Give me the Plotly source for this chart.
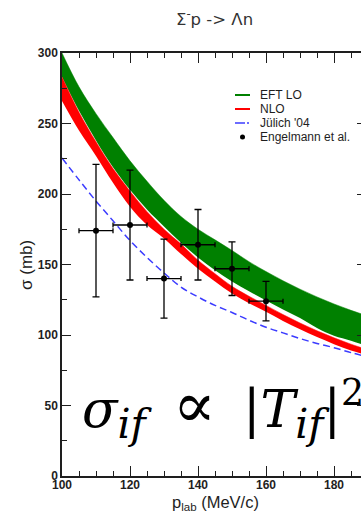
import plotly.graph_objects as go

# Lab momentum grid (MeV/c) for the theory curves
p_lab = [100, 105, 110, 115, 120, 125, 130, 135, 140, 145,
         150, 155, 160, 165, 170, 175, 180, 185, 190]

# EFT LO band (mb)
eft_lo_upper = [300, 276, 257, 240, 223.5, 209, 195.5, 184, 175, 167.5,
                160, 152, 145, 138.5, 132.5, 127, 122, 117.5, 113.5]
eft_lo_lower = [283, 259, 238, 219, 203, 189, 177, 165.5, 155, 146,
                138, 131, 124.5, 118, 112, 105, 99.5, 96, 92]

# NLO band (mb)
nlo_upper = [283, 258, 237, 218, 202, 187.5, 175, 164.5, 153, 143.5,
             134.5, 127.5, 121, 114.5, 108.5, 103, 98, 93.5, 89.5]
nlo_lower = [266, 245, 227, 208, 191, 178, 168.5, 157.5, 147, 138,
             129.5, 122.5, 116.5, 110, 104, 98.5, 93.5, 89, 85.5]

# Jülich '04 model (mb)
juelich04 = [225.5, 210, 195, 181, 167, 155, 144, 134, 127, 121,
             116, 110.5, 105.5, 101.5, 97.5, 94, 91, 87.5, 84.5]

# Engelmann et al. data
exp_p = [110, 120, 130, 140, 150, 160]
exp_sigma = [174, 178, 140, 164, 147, 124]
exp_err = [47, 39, 28, 25, 19, 14]
exp_dp = [5, 5, 5, 5, 5, 5]

legend_labels = ["EFT LO", "NLO", "Jülich '04", "Engelmann et al."]

GREEN = "#008000"
RED = "#ff0000"
BLUE = "#3c3cff"
INK = "#1e1e1e"
SANS = "Liberation Sans, Arial, sans-serif"
WIDE_SANS = "DejaVu Sans, sans-serif"
SERIF = "DejaVu Serif, serif"

# figure geometry in pixels
W, H = 361, 516
L, R, T, B = 62, 0, 53, 40
PW, PH = W - L - R, H - T - B


def px(xp):
    return (xp - L) / PW


def py(yp):
    return (H - B - yp) / PH


fig = go.Figure()

# EFT LO band
fig.add_trace(go.Scatter(x=p_lab, y=eft_lo_lower, mode="lines",
                         line=dict(width=0, color=GREEN, shape="spline"),
                         showlegend=False, hoverinfo="skip"))
fig.add_trace(go.Scatter(x=p_lab, y=eft_lo_upper, mode="lines",
                         line=dict(width=0.5, color=GREEN, shape="spline"),
                         fill="tonexty", fillcolor=GREEN,
                         showlegend=False, hoverinfo="skip"))

# NLO band
fig.add_trace(go.Scatter(x=p_lab, y=nlo_lower, mode="lines",
                         line=dict(width=0, color=RED, shape="spline"),
                         showlegend=False, hoverinfo="skip"))
fig.add_trace(go.Scatter(x=p_lab, y=nlo_upper, mode="lines",
                         line=dict(width=0.5, color=RED, shape="spline"),
                         fill="tonexty", fillcolor=RED,
                         showlegend=False, hoverinfo="skip"))

# Jülich '04
fig.add_trace(go.Scatter(x=p_lab, y=juelich04, mode="lines",
                         line=dict(width=1.5, color=BLUE, dash="7px,4px",
                                   shape="spline"),
                         showlegend=False))

# Engelmann et al.
fig.add_trace(go.Scatter(
    x=exp_p, y=exp_sigma, mode="markers",
    marker=dict(size=6, color="black"),
    error_y=dict(type="data", array=exp_err, color="black",
                 thickness=1.3, width=3.5),
    error_x=dict(type="data", array=exp_dp, color="black",
                 thickness=1.3, width=2.5),
    showlegend=False))

# carrier for the right-hand tick axis
fig.add_trace(go.Scatter(x=[None], y=[None], yaxis="y2",
                         showlegend=False, hoverinfo="skip"))

shapes = []
annotations = []

# legend block
leg_rows = [95, 109, 123, 137]
leg_x0, leg_x1, leg_tx = 235, 250, 258
shapes.append(dict(type="line", xref="paper", yref="paper",
                   x0=px(leg_x0), x1=px(leg_x1), y0=py(leg_rows[0]), y1=py(leg_rows[0]),
                   line=dict(color=GREEN, width=2)))
shapes.append(dict(type="line", xref="paper", yref="paper",
                   x0=px(leg_x0), x1=px(leg_x1), y0=py(leg_rows[1]), y1=py(leg_rows[1]),
                   line=dict(color=RED, width=2)))
shapes.append(dict(type="line", xref="paper", yref="paper",
                   x0=px(leg_x0), x1=px(leg_x1), y0=py(leg_rows[2]), y1=py(leg_rows[2]),
                   line=dict(color=BLUE, width=1.5, dash="10px,2px,2px,4px")))
shapes.append(dict(type="circle", xref="paper", yref="paper",
                   x0=px(240), x1=px(245), y0=py(leg_rows[3] - 2.5), y1=py(leg_rows[3] + 2.5),
                   fillcolor="black", line=dict(color="black", width=0)))
for row, label in zip(leg_rows, legend_labels):
    annotations.append(dict(x=px(leg_tx), y=py(row), xref="paper", yref="paper",
                            text=label, showarrow=False, xanchor="left",
                            yanchor="middle",
                            font=dict(family=SANS, size=12, color=INK)))

# title
annotations.append(dict(x=px(214), y=py(18), xref="paper", yref="paper",
                        text="Σ<sup>-</sup>p -> Λn", showarrow=False,
                        xanchor="center", yanchor="middle",
                        font=dict(family=WIDE_SANS, size=16.5, color="#333333")))

# axis titles
annotations.append(dict(x=px(215), y=py(503), xref="paper", yref="paper",
                        text="p<sub>lab</sub> (MeV/c)", showarrow=False,
                        xanchor="center", yanchor="middle",
                        font=dict(family=SANS, size=16.5, color=INK)))
annotations.append(dict(x=px(26), y=py(265), xref="paper", yref="paper",
                        text="σ (mb)", showarrow=False, textangle=-90,
                        xanchor="center", yanchor="middle",
                        font=dict(family=SANS, size=17, color=INK)))

# cross-section formula
SUB = '<sub><span style="font-size:41px"><i>if</i></span></sub>'
PROP = '<span style="font-size:64px">∝</span>'
GAP = "\u2009"
annotations.append(dict(x=px(80), y=py(408), xref="paper", yref="paper",
                        text="<i>σ</i>" + SUB + GAP + " " + PROP + " " + GAP
                             + "|<i>T</i>" + SUB + "|<sup>2</sup>",
                        showarrow=False, xanchor="left", yanchor="middle",
                        font=dict(family=SERIF, size=52, color="black")))

tickfont = dict(family=SANS, size=12, color=INK, weight="bold")

fig.update_layout(
    width=W, height=H,
    margin=dict(l=L, r=R, t=T, b=B, pad=0),
    paper_bgcolor="white", plot_bgcolor="white",
    showlegend=False,
    shapes=shapes,
    annotations=annotations,
    xaxis=dict(range=[100, 100 + PW / 3.4], showgrid=False, zeroline=False,
               showline=True, linecolor=INK, linewidth=1.5, mirror="ticks",
               ticks="inside", ticklen=10, tickwidth=1.3, tickcolor=INK,
               tick0=100, dtick=20, tickfont=tickfont, ticklabelstandoff=-3,
               minor=dict(ticks="inside", ticklen=5, tickwidth=1.2,
                          tickcolor=INK, tick0=100, dtick=5, showgrid=False)),
    yaxis=dict(range=[0, 300], showgrid=False, zeroline=False,
               showline=True, linecolor=INK, linewidth=1.5,
               ticks="inside", ticklen=9, tickwidth=1.3, tickcolor=INK,
               tick0=0, dtick=50, tickfont=tickfont,
               minor=dict(ticks="inside", ticklen=5, tickwidth=1.2,
                          tickcolor=INK, tick0=0, dtick=25, showgrid=False)),
    yaxis2=dict(overlaying="y", side="right", matches="y", range=[0, 300],
                showgrid=False, zeroline=False, showline=False,
                showticklabels=False, ticks="inside", ticklen=4,
                tickwidth=1.3, tickcolor=INK, tick0=0, dtick=50),
)

fig.write_html("out.html")
